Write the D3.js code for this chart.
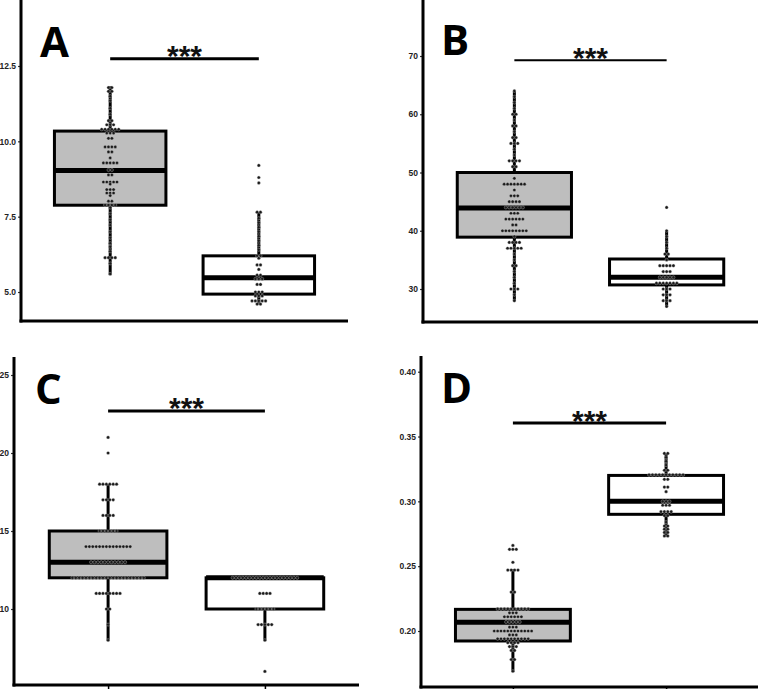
<!DOCTYPE html>
<html><head><meta charset="utf-8">
<script src="https://cdn.jsdelivr.net/npm/d3@7"></script>
<style>body{margin:0;background:#fff}svg{display:block}</style>
</head><body>
<svg id="chart" width="760" height="689"></svg>
<script>
// ---------- DATA ----------
const groups = ["Group 1", "Group 2"];
const panelLabels = ["A", "B", "C", "D"];
const sigLabel = "***";

const ticksA = [5.0, 7.5, 10.0, 12.5];
const ticksB = [30, 40, 50, 60, 70];
const ticksC = [10, 15, 20, 25];
const ticksD = [0.20, 0.25, 0.30, 0.35, 0.40];

// box stats: [lower whisker, Q1, median, Q3, upper whisker]
const boxA1 = [5.56, 7.88, 9.03, 10.34, 11.83];
const boxA2 = [4.58, 4.93, 5.47, 6.20, 7.66];
const boxB1 = [28, 38.9, 43.9, 50, 64];
const boxB2 = [27, 30.7, 32, 35.15, 40];
const boxC1 = [8, 12, 13, 15, 18];
const boxC2 = [8, 10, 12, 12, 12];
const boxD1 = [0.1686, 0.1923, 0.2067, 0.2167, 0.2478];
const boxD2 = [0.2727, 0.290, 0.300, 0.320, 0.3368];

// significance bar heights
const sigA = 12.74, sigB = 69.26, sigC = 22.7, sigD = 0.3604;

const valuesA1 = [11.82, 11.75, 11.7, 11.62, 11.5, 11.35, 11.1, 10.9, 10.72, 10.65, 10.6, 10.55, 10.5, 10.45, 10.42, 10.4, 10.4, 10.38, 10.35, 10.3, 10.3, 10.25, 10.15, 10.05, 9.85, 9.82, 9.8, 9.78, 9.7, 9.6, 9.45, 9.32, 9.3, 9.3, 9.28, 9.25, 9.1, 9.0, 8.92, 8.85, 8.7, 8.65, 8.62, 8.6, 8.6, 8.58, 8.45, 8.38, 8.35, 8.32, 8.3, 8.25, 8.2, 8.05, 7.98, 7.92, 7.9, 7.88, 7.85, 7.8, 7.6, 7.4, 7.22, 7.0, 6.8, 6.62, 6.5, 6.35, 6.18, 6.15, 6.12, 6.1, 5.95, 5.6];
const valuesA2 = [9.2, 8.8, 8.62, 7.68, 7.62, 7.45, 7.3, 7.15, 7.0, 6.85, 6.7, 6.55, 6.4, 6.25, 6.15, 6.12, 5.95, 5.85, 5.75, 5.6, 5.52, 5.47, 5.44, 5.4, 5.3, 5.2, 5.05, 4.98, 4.95, 4.92, 4.88, 4.82, 4.75, 4.72, 4.7, 4.68, 4.66, 4.62, 4.58];
const valuesB1 = [64, 63, 62, 61, 60, 60, 59, 58, 58, 57, 56, 56, 55, 55, 55, 54, 53, 52, 52, 52, 52, 51, 51, 49, 48, 48, 48, 48, 48, 48, 48, 47, 46, 46, 46, 45, 45, 45, 45, 44, 44, 44, 44, 44, 44, 43, 43, 43, 42, 42, 42, 42, 42, 42, 41, 41, 40, 40, 40, 40, 40, 40, 40, 40, 39, 38, 38, 38, 38, 37, 37, 37, 37, 37, 36, 35, 34, 34, 33, 32, 31, 30, 30, 30, 29, 28];
const valuesB2 = [44, 40, 39, 38, 37, 36, 36, 35, 34, 34, 34, 34, 34, 33, 33, 33, 32, 32, 32, 32, 32, 31, 31, 31, 31, 31, 31, 31, 30, 30, 30, 29, 29, 29, 28, 28, 28, 27];
const valuesC1 = [21, 20, 18, 18, 18, 18, 18, 18, 17, 17, 17, 17, 16, 16, 16, 16, 15, 15, 15, 15, 15, 15, 14, 14, 14, 14, 14, 14, 14, 14, 14, 14, 14, 14, 14, 14, 13, 13, 13, 13, 13, 13, 13, 13, 13, 13, 13, 12, 12, 12, 12, 12, 12, 12, 12, 12, 12, 12, 12, 12, 12, 12, 12, 12, 12, 12, 12, 12, 12, 11, 11, 11, 11, 11, 11, 11, 11, 10, 10, 9, 8];
const valuesC2 = [12, 12, 12, 12, 12, 12, 12, 12, 12, 12, 12, 12, 12, 12, 12, 12, 12, 12, 12, 12, 11, 11, 11, 11, 10, 10, 10, 10, 10, 10, 9, 9, 9, 9, 9, 8, 6];
const valuesD1 = [0.266, 0.263, 0.263, 0.263, 0.253, 0.247, 0.247, 0.247, 0.247, 0.230, 0.230, 0.217, 0.217, 0.217, 0.217, 0.217, 0.217, 0.217, 0.217, 0.217, 0.217, 0.214, 0.214, 0.214, 0.211, 0.211, 0.211, 0.211, 0.211, 0.211, 0.207, 0.207, 0.207, 0.207, 0.207, 0.203, 0.203, 0.203, 0.200, 0.200, 0.200, 0.200, 0.200, 0.200, 0.200, 0.200, 0.200, 0.200, 0.200, 0.200, 0.197, 0.197, 0.197, 0.194, 0.194, 0.194, 0.194, 0.194, 0.194, 0.194, 0.194, 0.194, 0.194, 0.191, 0.191, 0.191, 0.191, 0.188, 0.188, 0.188, 0.185, 0.185, 0.178, 0.178, 0.169];
const valuesD2 = [0.337, 0.337, 0.334, 0.331, 0.328, 0.324, 0.324, 0.3215, 0.3215, 0.3215, 0.3195, 0.3195, 0.3195, 0.3195, 0.3195, 0.3195, 0.3195, 0.3195, 0.317, 0.317, 0.311, 0.311, 0.3075, 0.300, 0.300, 0.300, 0.297, 0.297, 0.297, 0.292, 0.292, 0.292, 0.292, 0.289, 0.289, 0.284, 0.281, 0.281, 0.2785, 0.2785, 0.276, 0.276, 0.2733, 0.2733];

// ---------- LAYOUT ----------
const panels = [
  {label: panelLabels[0], ticks: ticksA, fmt: ".1f", boxes: [boxA1, boxA2], vals: [valuesA1, valuesA2], sig: sigA,
   x0: 21, x1: 348, yTop: 0, yBot: 321, t1: [12.5, 66], t2: [5.0, 292], lab: [40, 57], sigW: 3, xTick: 0},
  {label: panelLabels[1], ticks: ticksB, fmt: "d", boxes: [boxB1, boxB2], vals: [valuesB1, valuesB2], sig: sigB,
   x0: 423, x1: 758, yTop: 0, yBot: 322, t1: [70, 56], t2: [30, 289], lab: [441, 55], sigW: 2, xTick: 0},
  {label: panelLabels[2], ticks: ticksC, fmt: "d", boxes: [boxC1, boxC2], vals: [valuesC1, valuesC2], sig: sigC,
   x0: 14, x1: 359, yTop: 357, yBot: 685, t1: [25, 375], t2: [10, 609], lab: [35, 404], sigW: 3, xTick: 5},
  {label: panelLabels[3], ticks: ticksD, fmt: ".2f", boxes: [boxD1, boxD2], vals: [valuesD1, valuesD2], sig: sigD,
   x0: 421, x1: 758, yTop: 356, yBot: 687, t1: [0.40, 371.7], t2: [0.20, 631], lab: [441, 403], sigW: 3, xTick: 5}
];
const fills = ["#bebebe", "#ffffff"];
const dotD = 3.4;

const svg = d3.select("#chart");

panels.forEach(p => {
  const g = svg.append("g");
  const k = (p.t2[1] - p.t1[1]) / (p.t2[0] - p.t1[0]);
  const vAt = py => p.t1[0] + (py - p.t1[1]) / k;
  const y = d3.scaleLinear().domain([vAt(p.yBot), vAt(p.yTop)]).range([p.yBot, p.yTop]);
  const x = d3.scalePoint().domain(groups).range([p.x0, p.x1]).padding(0.6);
  const bw = x.step() * 0.75;

  // y axis
  const yAxis = d3.axisLeft(y).tickValues(p.ticks).tickFormat(d3.format(p.fmt)).tickSize(3).tickPadding(2);
  const ya = g.append("g").attr("transform", `translate(${p.x0},0)`).call(yAxis);
  ya.select(".domain").remove();
  ya.selectAll(".tick line").attr("stroke", "#333").attr("stroke-width", 1.2);
  ya.selectAll(".tick text").attr("font-family", "Liberation Sans, Arial, sans-serif")
    .attr("font-weight", "bold").attr("font-size", 8.5).attr("fill", "#222");
  g.append("line").attr("x1", p.x0).attr("x2", p.x0).attr("y1", p.yTop).attr("y2", p.yBot + 1.5)
    .attr("stroke", "#000").attr("stroke-width", 3);

  // x axis
  const xAxis = d3.axisBottom(x).tickSize(p.xTick).tickFormat("");
  const xa = g.append("g").attr("transform", `translate(0,${p.yBot})`).call(xAxis);
  xa.select(".domain").remove();
  xa.selectAll(".tick line").attr("stroke", "#000").attr("stroke-width", 1.5);
  g.append("line").attr("x1", p.x0 - 1.5).attr("x2", p.x1).attr("y1", p.yBot).attr("y2", p.yBot)
    .attr("stroke", "#000").attr("stroke-width", 3);

  // boxes
  groups.forEach((grp, i) => {
    const b = p.boxes[i];
    const cx = x(grp);
    g.append("line").attr("x1", cx).attr("x2", cx).attr("y1", y(b[0])).attr("y2", y(b[4]))
      .attr("stroke", "#000").attr("stroke-width", 3);
    g.append("rect").attr("x", cx - bw / 2).attr("width", bw)
      .attr("y", y(b[3])).attr("height", y(b[1]) - y(b[3]))
      .attr("fill", fills[i]).attr("stroke", "#000").attr("stroke-width", 3);
    g.append("line").attr("x1", cx - bw / 2).attr("x2", cx + bw / 2).attr("y1", y(b[2])).attr("y2", y(b[2]))
      .attr("stroke", "#000").attr("stroke-width", 5);
  });

  // dots (dotplot, centered stacking)
  groups.forEach((grp, i) => {
    const cx = x(grp);
    const ys = p.vals[i].map(v => y(v)).sort((a, b) => a - b);
    const bins = [];
    let cur = null;
    ys.forEach(py => {
      if (cur && py - cur.start < dotD * 0.9) cur.items.push(py);
      else { cur = {start: py, items: [py]}; bins.push(cur); }
    });
    const pts = [];
    bins.forEach(bn => {
      const cy = (bn.start + bn.items[bn.items.length - 1]) / 2;
      const n = bn.items.length;
      bn.items.forEach((_, j) => pts.push([cx + (j - (n - 1) / 2) * dotD, cy]));
    });
    g.selectAll(null).data(pts).enter().append("circle")
      .attr("cx", d => d[0]).attr("cy", d => d[1]).attr("r", 1.6)
      .attr("fill", "#1a1a1a").attr("stroke", "#d0d0d0").attr("stroke-width", 0.35);
  });

  // significance bar
  const sy = y(p.sig);
  g.append("line").attr("x1", x(groups[0])).attr("x2", x(groups[1])).attr("y1", sy).attr("y2", sy)
    .attr("stroke", "#000").attr("stroke-width", p.sigW);
  g.append("text").attr("x", (x(groups[0]) + x(groups[1])) / 2).attr("y", sy + 7.5)
    .attr("text-anchor", "middle").attr("font-family", "Liberation Sans, Arial, sans-serif")
    .attr("font-weight", "bold").attr("font-size", 30).attr("fill", "#111").text(sigLabel);

  // panel label
  g.append("text").attr("x", p.lab[0]).attr("y", p.lab[1])
    .attr("font-family", "Open Sans, Liberation Sans, sans-serif").attr("font-weight", "bold")
    .attr("font-size", 42).attr("fill", "#000").text(p.label);
});
</script>
</body></html>
